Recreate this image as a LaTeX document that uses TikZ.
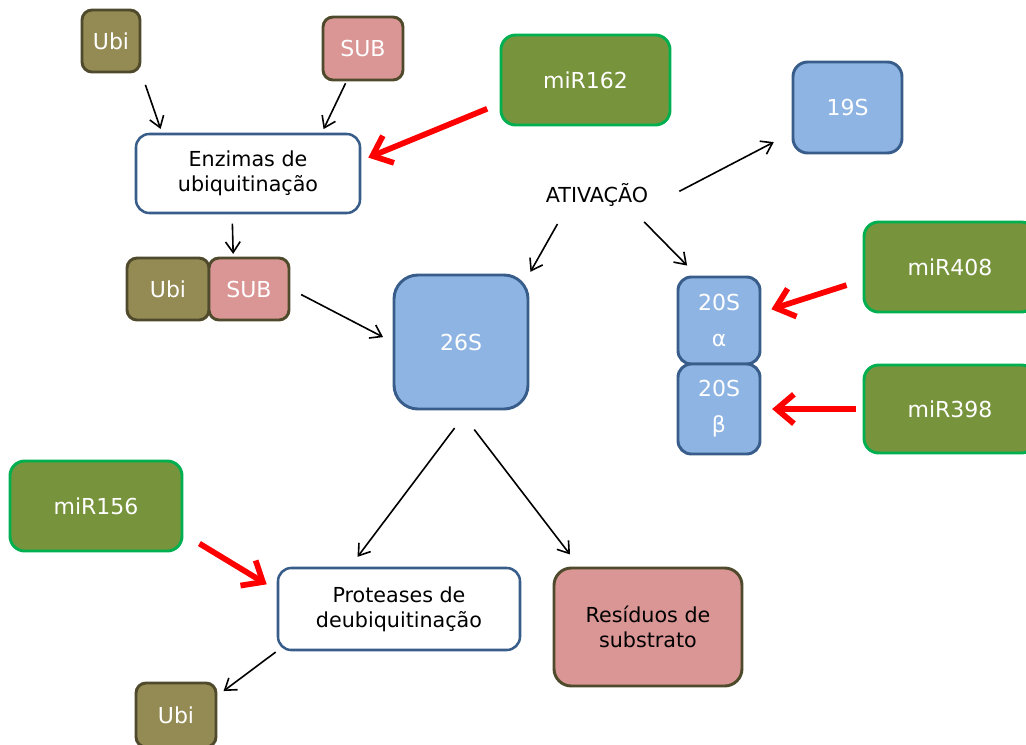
\documentclass[tikz,border=0pt]{standalone}
\usepackage{fontspec}
\setmainfont{DejaVu Sans}
\usetikzlibrary{arrows.meta,calc}
\definecolor{olivefill}{HTML}{948A54}
\definecolor{darkedge}{HTML}{4F4A2C}
\definecolor{pinkfill}{HTML}{D99694}
\definecolor{bluefill}{HTML}{8EB4E3}
\definecolor{blueedge}{HTML}{385D8A}
\definecolor{mirfill}{HTML}{77933C}
\definecolor{miredge}{HTML}{00B050}
\definecolor{inhib}{HTML}{FF0000}
\tikzset{
  box/.style={rectangle, inner sep=0pt, align=center, line width=2.2pt},
  whitetext/.style={text=white, font=\fontsize{16.5}{20}\selectfont},
  ubibox/.style={box, whitetext, fill=olivefill, draw=darkedge, rounded corners=7.5pt},
  subbox/.style={box, whitetext, fill=pinkfill, draw=darkedge, rounded corners=7.5pt},
  protbox/.style={box, whitetext, fill=bluefill, draw=blueedge},
  mirbox/.style={box, whitetext, fill=mirfill, draw=miredge, rounded corners=11pt},
  enzbox/.style={box, fill=white, draw=blueedge, line width=1.9pt, rounded corners=10pt,
    font=\fontsize{15.5}{19}\selectfont},
  link/.style={line width=1.2pt, -{Straight Barb[length=8pt,width=11pt]}},
  block/.style={line width=4.3pt, inhib, -{Straight Barb[length=13pt,width=22pt]}},
}
\begin{document}
\begin{tikzpicture}[x=0.75pt,y=-0.75pt]
\useasboundingbox (0,0) rectangle (1026,744);
\clip (0,0) rectangle (1026,744);

% ubiquitination inputs
\node[ubibox, minimum width=43.5pt, minimum height=46.5pt] (ubiA) at (111,41) {Ubi};
\node[subbox, minimum width=60pt, minimum height=47.25pt] (subA) at (363,48.5) {SUB};
\node[enzbox, minimum width=168pt, minimum height=59.25pt] (enz) at (248,173.5) {Enzimas de\\ubiquitinação};
\node[mirbox, minimum width=126.75pt, minimum height=67.5pt] (mir162) at (585.5,80) {miR162};

% conjugate
\node[ubibox, minimum width=61.5pt, minimum height=46.5pt] (ubiB) at (168,289) {Ubi};
\node[subbox, minimum width=60pt, minimum height=46.5pt] (subB) at (249,289) {SUB};

% proteasome
\node[protbox, rounded corners=18pt, minimum width=100.5pt, minimum height=100.5pt] (p26) at (461,342) {26S};
\node[protbox, rounded corners=11pt, minimum width=81.75pt, minimum height=68.25pt] (p19) at (847.5,107.5) {19S};
\node[font=\fontsize{15.5}{19}\selectfont, minimum width=112.5pt, minimum height=30pt, inner sep=0pt] (ativ) at (597,195) {ATIVAÇÃO};
\node[protbox, rounded corners=10pt, minimum width=61.5pt, minimum height=65.25pt] (p20a) at (719,320.5) {20S\\[7pt]α};
\node[protbox, rounded corners=10pt, minimum width=61.5pt, minimum height=67.5pt] (p20b) at (719,409) {20S\\[7pt]β};
\node[mirbox, minimum width=129pt, minimum height=67.5pt] (mir408) at (950,267) {miR408};
\node[mirbox, minimum width=129pt, minimum height=66pt] (mir398) at (950,409) {miR398};

% products
\node[mirbox, minimum width=129pt, minimum height=67.5pt] (mir156) at (96,506) {miR156};
\node[enzbox, minimum width=181.5pt, minimum height=61.5pt] (prot) at (399,609) {Proteases de\\deubiquitinação};
\node[box, fill=pinkfill, draw=darkedge, rounded corners=13pt, font=\fontsize{15.5}{19}\selectfont,
  minimum width=141pt, minimum height=88.5pt] (resid) at (648,627) {Resíduos de\\substrato};
\node[ubibox, minimum width=60pt, minimum height=48pt] (ubiC) at (176,715) {Ubi};

% black connectors
\draw[link, shorten <=9pt, shorten >=3pt] (ubiA.south east) -- ($(enz.north west)!0.12!(enz.north east)$);
\draw[link, shorten <=1.5pt, shorten >=3pt] ($(subA.south west)!0.3!(subA.south east)$) -- ($(enz.north west)!0.826!(enz.north east)$);
\draw[link, shorten <=7pt, shorten >=2pt] ($(enz.south west)!0.43!(enz.south east)$) -- ($(subB.north west)!0.31!(subB.north east)$);
\draw[link, shorten <=9pt, shorten >=8pt] (subB.east) -- (p26.west);
\draw[link, shorten <=6pt, shorten >=15pt] (ativ.east) -- ($(p19.north west)!0.77!(p19.south west)$);
\draw[link, shorten <=7.5pt, shorten >=1.5pt] ($(ativ.south west)!0.27!(ativ.south east)$) -- (p26.north east);
\draw[link, shorten <=7pt, shorten >=10.5pt] ($(ativ.south west)!0.77!(ativ.south east)$) -- ($(p20a.north west)!0.24!(p20a.north east)$);
\draw[link, shorten <=16.5pt, shorten >=9.3pt] ($(p26.south west)!0.55!(p26.south east)$) -- ($(prot.north west)!0.30!(prot.north east)$);
\draw[link, shorten <=18pt, shorten >=11.4pt] ($(p26.south west)!0.49!(p26.south east)$) -- ($(resid.north west)!0.14!(resid.north east)$);
\draw[link, shorten <=1pt, shorten >=5.7pt] (prot.south west) -- ($(ubiC.north east)!0.21!(ubiC.south east)$);

% red connectors
\draw[block, shorten <=10pt, shorten >=5.7pt] ($(mir162.north west)!0.755!(mir162.south west)$) -- ($(enz.north east)!0.34!(enz.south east)$);
\draw[block, shorten <=12.6pt, shorten >=7.8pt] ($(mir408.north west)!0.64!(mir408.south west)$) -- ($(p20a.north east)!0.41!(p20a.south east)$);
\draw[block, shorten <=5pt, shorten >=8pt] (mir398.west) -- (p20b.east);
\draw[block, shorten <=14pt, shorten >=8.8pt] ($(mir156.north east)!0.8!(mir156.south east)$) -- ($(prot.north west)!0.28!(prot.south west)$);
\end{tikzpicture}
\end{document}
